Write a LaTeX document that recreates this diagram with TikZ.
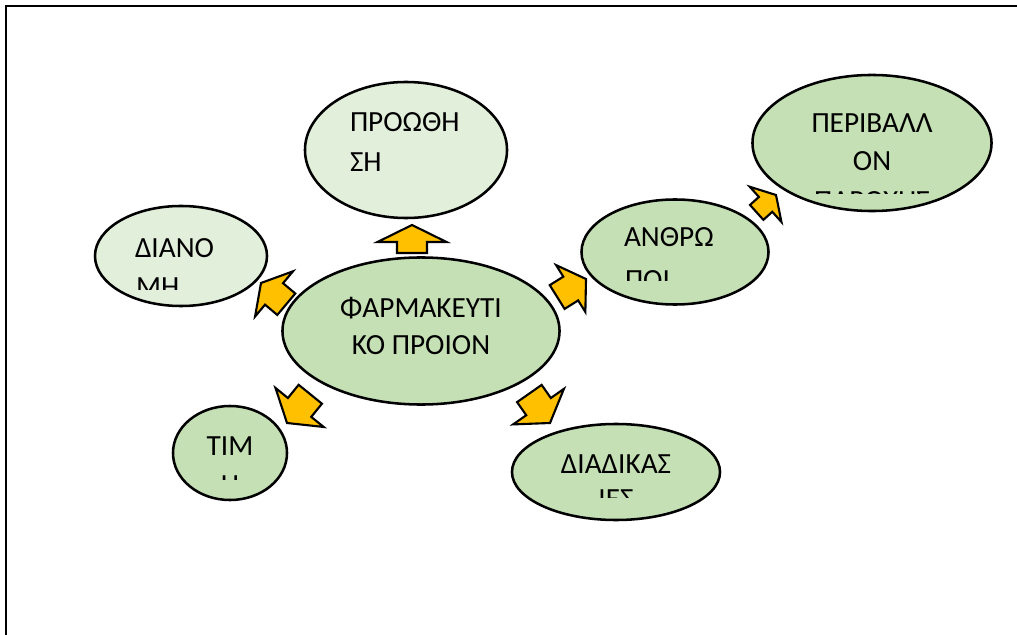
\documentclass[tikz,border=0pt]{standalone}
\usepackage{fontspec}
\setmainfont{Carlito}
\usetikzlibrary{shapes.geometric}
\definecolor{palegreen}{HTML}{E2EFDA}
\definecolor{midgreen}{HTML}{C5E0B4}
\definecolor{amber}{HTML}{FFC000}
\tikzset{
  bubble/.style={ellipse, draw=black, line width=1.8pt, inner sep=0pt, outer sep=0pt},
  lbl/.style={inner sep=0pt, outer sep=0pt, font=\fontsize{20.8}{24}\selectfont},
  blockarr/.style={fill=amber, draw=black, line width=1.5pt, line join=miter},
}
% block arrow: tip coordinate, direction, head length, half head width,
% half stem width, stem length
\newcommand\blockarrow[6]{%
  \draw[blockarr, shift={(#1)}, rotate=#2]
    (0,0) -- (-#3,#4) -- (-#3,#5) -- ({-#3-#6},#5) -- ({-#3-#6},-#5)
    -- (-#3,-#5) -- (-#3,-#4) -- cycle;}
\begin{document}
\begin{tikzpicture}[x=0.025cm, y=-0.025cm]
\useasboundingbox (0,0) rectangle (1017,635);
\fill[white] (0,0) rectangle (1017,635);
% page frame
\draw[line width=1.8pt] (6,635) -- (6,6) -- (1017,6);

% bubbles
\node[bubble, fill=palegreen, minimum width=5.05cm, minimum height=3.4cm] (promo) at (406,150) {};
\node[bubble, fill=midgreen, minimum width=5.975cm, minimum height=3.4cm] (envir) at (872,143) {};
\node[bubble, fill=palegreen, minimum width=4.3cm, minimum height=2.5cm] (distr) at (181,256) {};
\node[bubble, fill=midgreen, minimum width=6.925cm, minimum height=3.675cm] (prod) at (421,331) {};
\node[bubble, fill=midgreen, minimum width=4.675cm, minimum height=2.625cm] (people) at (675,252) {};
\node[bubble, fill=midgreen, minimum width=2.85cm, minimum height=2.35cm] (price) at (230,453) {};
\node[bubble, fill=midgreen, minimum width=5.2cm, minimum height=2.4cm] (proc) at (616,472) {};

% texts, each box clipped to its text area
\node[lbl, anchor=base west] (promoA) at (350,132) {ΠΡΟΩΘΗ};
\node[lbl, anchor=base west] (promoB) at (350,172) {ΣΗ};

\begin{scope}
  \clip (760,90) rectangle (990,194);
  \node[lbl, anchor=base] (envirA) at (872,133) {ΠΕΡΙΒΑΛΛ};
  \node[lbl, anchor=base] (envirB) at (872,171) {ΟΝ};
  \node[lbl, anchor=base] (envirC) at (872,211) {ΠΑΡΟΧΗΣ};
\end{scope}

\begin{scope}
  \clip (100,215) rectangle (265,290);
  \node[lbl, anchor=base west] (distrA) at (135,258) {ΔΙΑΝΟ};
  \node[lbl, anchor=base west] (distrB) at (136,296) {ΜΗ};
\end{scope}

\node[lbl, anchor=base] (prodA) at (421,317) {ΦΑΡΜΑΚΕΥΤΙ};
\node[lbl, anchor=base] (prodB) at (421,354) {ΚΟ ΠΡΟΙΟΝ};

\begin{scope}
  \clip (590,210) rectangle (765,281);
  \node[lbl, anchor=base west] (peopleA) at (624,247) {ΑΝΘΡΩ};
  \node[lbl, anchor=base west] (peopleB) at (625,290) {ΠΟΙ};
\end{scope}

\begin{scope}
  \clip (180,420) rectangle (285,479);
  \node[lbl, anchor=base] (priceA) at (230,455) {ΤΙΜ};
  \node[lbl, anchor=base] (priceB) at (230,494) {Η};
\end{scope}

\begin{scope}
  \clip (520,440) rectangle (715,497);
  \node[lbl, anchor=base] (procA) at (616,473) {ΔΙΑΔΙΚΑΣ};
  \node[lbl, anchor=base] (procB) at (616,508) {ΙΕΣ};
\end{scope}

% block arrows from the product outwards
\coordinate (toPromo)  at (412,225);
\coordinate (toPrice)  at (287,423);
\coordinate (toProc)   at (550,423);
\coordinate (toDistr)  at (261,283);
\coordinate (toPeople) at (586,279);
\coordinate (toEnvir)  at (776,195);
\blockarrow{toPromo}{90}{17}{34.5}{15}{11}
\blockarrow{toPrice}{231}{20}{31}{15}{17}
\blockarrow{toProc}{-55}{20}{31}{15}{16}
\blockarrow{toDistr}{140}{17}{29.5}{14}{16}
\blockarrow{toPeople}{32}{18}{27.6}{14}{16}
\blockarrow{toEnvir}{42}{14}{23.7}{10}{12}
\end{tikzpicture}
\end{document}
